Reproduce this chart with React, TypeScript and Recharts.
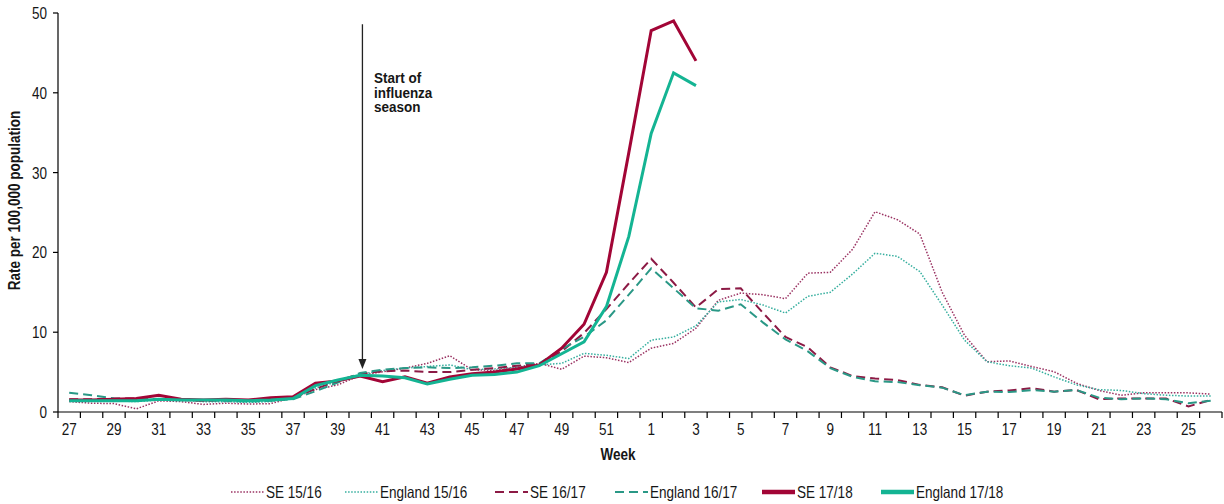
import React from 'react';
import { LineChart, Line, XAxis, YAxis, Legend, ReferenceLine } from 'recharts';

const WEEKS = [27, 28, 29, 30, 31, 32, 33, 34, 35, 36, 37, 38, 39, 40, 41, 42, 43, 44, 45, 46, 47, 48, 49, 50, 51, 52,
  1, 2, 3, 4, 5, 6, 7, 8, 9, 10, 11, 12, 13, 14, 15, 16, 17, 18, 19, 20, 21, 22, 23, 24, 25, 26];

const SE_1516 = [1.3, 1.1, 1.05, 0.4, 1.4, 1.3, 0.95, 1.1, 1.0, 1.05, 1.8, 2.8, 3.4, 4.6, 5.05, 5.5, 6.1, 7.05, 5.3, 5.2, 5.6, 6.1, 5.35, 7.0, 6.8, 6.2,
  8.0, 8.6, 10.5, 14.0, 14.9, 14.7, 14.2, 17.4, 17.5, 20.4, 25.1, 24.1, 22.3, 15.0, 9.6, 6.3, 6.4, 5.7, 5.05, 3.6, 2.7, 2.1, 2.4, 2.4, 2.4, 2.25];
const ENG_1516 = [1.5, 1.4, 1.4, 1.3, 1.5, 1.5, 1.3, 1.3, 1.2, 1.3, 1.7, 3.0, 3.8, 4.7, 5.2, 5.5, 5.7, 5.9, 5.3, 5.4, 5.6, 5.9, 6.1, 7.35, 7.1, 6.7,
  9.0, 9.4, 10.8, 13.8, 14.1, 13.4, 12.4, 14.5, 15.0, 17.3, 19.9, 19.5, 17.6, 13.4, 9.0, 6.3, 5.8, 5.5, 4.4, 3.4, 2.8, 2.7, 2.3, 2.1, 2.0, 2.0];
const SE_1617 = [1.6, 1.6, 1.7, 1.7, 1.6, 1.5, 1.4, 1.5, 1.4, 1.5, 1.7, 2.9, 3.9, 4.8, 5.1, 5.2, 5.0, 5.0, 5.3, 5.5, 5.8, 6.0, 7.6, 9.9, 12.9, 16.1,
  19.2, 16.2, 13.1, 15.4, 15.5, 12.4, 9.4, 8.1, 5.6, 4.5, 4.2, 4.0, 3.4, 3.1, 2.05, 2.55, 2.7, 3.0, 2.55, 2.75, 1.6, 1.7, 1.7, 1.7, 0.7, 1.5];
const ENG_1617 = [2.4, 2.1, 1.7, 1.6, 1.5, 1.5, 1.5, 1.4, 1.3, 1.4, 1.6, 2.6, 3.7, 4.9, 5.3, 5.5, 5.6, 5.5, 5.6, 5.8, 6.1, 6.1, 7.9, 9.4, 11.5, 14.7,
  18.0, 15.5, 13.0, 12.7, 13.5, 11.2, 9.1, 7.6, 5.5, 4.4, 3.85, 3.75, 3.35, 3.05, 2.1, 2.55, 2.5, 2.75, 2.55, 2.75, 1.8, 1.6, 1.7, 1.6, 1.1, 1.4];
const SE_1718 = [1.5, 1.5, 1.6, 1.7, 2.1, 1.6, 1.5, 1.6, 1.5, 1.8, 1.9, 3.6, 3.9, 4.5, 3.8, 4.4, 3.6, 4.4, 4.8, 5.0, 5.4, 5.9, 8.0, 11.0, 17.5, 32.5,
  47.8, 49.0, 44.0];
const ENG_1718 = [1.4, 1.4, 1.4, 1.4, 1.6, 1.5, 1.5, 1.5, 1.4, 1.5, 1.7, 3.3, 4.0, 4.6, 4.5, 4.3, 3.5, 4.1, 4.6, 4.7, 5.0, 5.8, 7.3, 8.8, 13.2, 22.0,
  34.9, 42.5, 40.9];

const Y_TICKS = [0, 10, 20, 30, 40, 50];
const SERIES_NAMES = ['SE 15/16', 'England 15/16', 'SE 16/17', 'England 16/17', 'SE 17/18', 'England 17/18'];
const ANNOTATION_LINES = ['Start of', 'influenza', 'season'];
const ANNOTATION_INDEX = 13.1; // week 40
const ANNOTATION_TOP = 48.6;
const ANNOTATION_TIP = 5.4;

const data = WEEKS.map((w, i) => ({
  idx: i,
  week: w,
  se1516: SE_1516[i] ?? null,
  eng1516: ENG_1516[i] ?? null,
  se1617: SE_1617[i] ?? null,
  eng1617: ENG_1617[i] ?? null,
  se1718: SE_1718[i] ?? null,
  eng1718: ENG_1718[i] ?? null,
}));

const BOUNDARIES = Array.from({ length: WEEKS.length + 1 }, (_, k) => k - 0.5);

const W = 1224;
const H = 504;
const MARGIN = { top: 13, right: 2, bottom: 0, left: 0 };
const Y_AXIS_W = 58;
const X_AXIS_H = 68;
const LEGEND_H = 24;
const PLOT_W = W - MARGIN.left - MARGIN.right - Y_AXIS_W;
const BAND = PLOT_W / WEEKS.length;

const FONT = "'Liberation Sans', Arial, Helvetica, sans-serif";
const NARROW = 0.82;
const TEXT_COLOR = '#161616';

const STYLES = [
  { key: 'se1516', color: '#9a3262', width: 1.5, dash: '1.5 1.6' },
  { key: 'eng1516', color: '#35ae9e', width: 1.5, dash: '1.5 1.6' },
  { key: 'se1617', color: '#8c1a45', width: 2, dash: '9 5' },
  { key: 'eng1617', color: '#2a9886', width: 2, dash: '9 5' },
  { key: 'se1718', color: '#a20536', width: 3, dash: undefined },
  { key: 'eng1718', color: '#14b493', width: 3, dash: undefined },
];

const XTick = (props: any) => {
  const { x, y, payload } = props;
  const i = Math.round(payload.value + 0.5);
  if (i % 2 !== 0 || i >= WEEKS.length) return null;
  return (
    <text
      transform={`translate(${x + BAND / 2},${y + 15}) scale(${NARROW},1)`}
      textAnchor="middle"
      fontFamily={FONT}
      fontSize={16.5}
      fill={TEXT_COLOR}
    >
      {WEEKS[i]}
    </text>
  );
};

const YTick = (props: any) => {
  const { x, y, payload } = props;
  return (
    <text
      transform={`translate(${x},${y + 6}) scale(${NARROW},1)`}
      textAnchor="end"
      fontFamily={FONT}
      fontSize={16.5}
      fill={TEXT_COLOR}
    >
      {payload.value}
    </text>
  );
};

const XLabel = (props: any) => {
  const vb = props.viewBox || {};
  const cx = vb.x + vb.width / 2 - 22;
  return (
    <text
      transform={`translate(${cx},${vb.y + 48}) scale(${NARROW},1)`}
      textAnchor="middle"
      fontFamily={FONT}
      fontSize={16.5}
      fontWeight="bold"
      fill={TEXT_COLOR}
    >
      Week
    </text>
  );
};

const YLabel = (props: any) => {
  const vb = props.viewBox || {};
  const cy = vb.y + vb.height / 2 - 12;
  return (
    <text
      transform={`translate(20,${cy}) rotate(-90) scale(${NARROW},1)`}
      textAnchor="middle"
      fontFamily={FONT}
      fontSize={16.5}
      fontWeight="bold"
      fill={TEXT_COLOR}
    >
      Rate per 100,000 population
    </text>
  );
};

const ArrowShape = (props: any) => {
  const { x1, y1, x2, y2 } = props;
  return (
    <g>
      <line x1={x1} y1={y1} x2={x2} y2={y2 - 8} stroke="#222" strokeWidth={1.3} />
      <polygon points={`${x2 - 4},${y2 - 10} ${x2 + 4},${y2 - 10} ${x2},${y2}`} fill="#222" />
      {ANNOTATION_LINES.map((t, k) => (
        <text
          key={t}
          transform={`translate(${x1 + 11.5},${y1 + 59 + k * 14.5}) scale(0.9,1)`}
          fontFamily={FONT}
          fontSize={15}
          fontWeight="bold"
          fill={TEXT_COLOR}
        >
          {t}
        </text>
      ))}
    </g>
  );
};

const LEGEND_LEFT = [231, 345, 495, 615, 762, 881];

const LegendContent = () => (
  <div style={{ position: 'relative', height: LEGEND_H, width: '100%' }}>
    {STYLES.map((s, k) => (
      <div
        key={s.key}
        style={{ position: 'absolute', left: LEGEND_LEFT[k], top: 0, height: LEGEND_H, display: 'flex', alignItems: 'center' }}
      >
        <svg width={33} height={10} style={{ display: 'block' }}>
          <line
            x1={0}
            y1={5}
            x2={33}
            y2={5}
            stroke={s.color}
            strokeWidth={s.dash ? s.width : 4.5}
            strokeDasharray={s.dash}
          />
        </svg>
        <span
          style={{
            display: 'inline-block',
            marginLeft: 2,
            fontFamily: FONT,
            fontSize: 16.5,
            color: TEXT_COLOR,
            whiteSpace: 'nowrap',
            transform: `scaleX(${NARROW})`,
            transformOrigin: '0 50%',
          }}
        >
          {SERIES_NAMES[k]}
        </span>
      </div>
    ))}
  </div>
);

export default function App() {
  return (
    <div style={{ position: 'absolute', left: 0, top: 0, width: W, height: H, background: '#fff' }}>
      <LineChart width={W} height={H} data={data} margin={MARGIN}>
        <XAxis
          dataKey="idx"
          type="number"
          domain={[-0.5, WEEKS.length - 0.5]}
          ticks={BOUNDARIES}
          interval={0}
          height={X_AXIS_H}
          tickSize={6}
          tickMargin={2}
          axisLine={{ stroke: '#000', strokeWidth: 1.2 }}
          tickLine={{ stroke: '#000', strokeWidth: 1.2 }}
          tick={<XTick />}
          label={<XLabel />}
        />
        <YAxis
          type="number"
          domain={[0, 50]}
          ticks={Y_TICKS}
          interval={0}
          width={Y_AXIS_W}
          tickSize={5}
          tickMargin={6}
          axisLine={{ stroke: '#000', strokeWidth: 1.2 }}
          tickLine={{ stroke: '#000', strokeWidth: 1.2 }}
          tick={<YTick />}
          label={<YLabel />}
        />
        <Legend
          verticalAlign="bottom"
          align="left"
          wrapperStyle={{ height: LEGEND_H }}
          content={() => <LegendContent />}
        />
        <ReferenceLine
          segment={[
            { x: ANNOTATION_INDEX, y: ANNOTATION_TOP },
            { x: ANNOTATION_INDEX, y: ANNOTATION_TIP },
          ]}
          shape={ArrowShape}
          ifOverflow="visible"
        />
        {STYLES.map((s, k) => (
          <Line
            key={s.key}
            dataKey={s.key}
            name={SERIES_NAMES[k]}
            type="linear"
            stroke={s.color}
            strokeWidth={s.width}
            strokeDasharray={s.dash}
            dot={false}
            activeDot={false}
            connectNulls={false}
            isAnimationActive={false}
          />
        ))}
      </LineChart>
    </div>
  );
}
